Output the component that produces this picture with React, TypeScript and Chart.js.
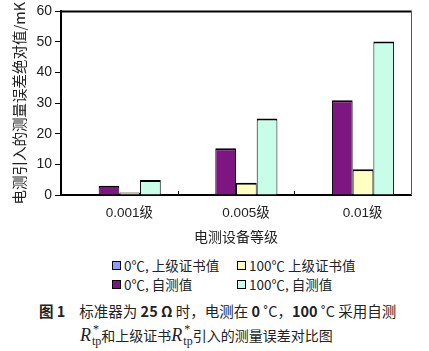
import React, { useEffect, useRef } from "react";
import { Chart, registerables } from "chart.js";

Chart.register(...registerables);

const categories = ["0.001级", "0.005级", "0.01级"];
const seriesNames = ["0℃, 上级证书值", "0℃, 自测值", "100℃ 上级证书值", "100℃, 自测值"];
const blueCert0 = [0, 0, 0];
const purpleSelf0 = [3.0, 15.3, 31.0];
const yellowCert100 = [0.8, 4.0, 8.4];
const cyanSelf100 = [4.9, 25.0, 50.2];
const yTicks = [0, 10, 20, 30, 40, 50, 60];

const colors = ["#8c9cff", "#7d1680", "#ffffc4", "#c8fdea"];

const FONT = "'Liberation Sans', 'Noto Sans CJK SC', sans-serif";
const CJK = "'Noto Sans CJK SC', sans-serif";

const frame = {
  id: "frame",
  afterDraw(chart: any) {
    const { ctx, chartArea } = chart;
    const { left, right, top, bottom } = chartArea;
    ctx.save();
    ctx.strokeStyle = "#000";
    ctx.lineWidth = 2;
    ctx.beginPath();
    ctx.moveTo(left - 1, top);
    ctx.lineTo(right, top);
    ctx.stroke();
    ctx.strokeStyle = "#555";
    ctx.lineWidth = 1;
    ctx.beginPath();
    ctx.moveTo(right + 0.5, top - 1);
    ctx.lineTo(right + 0.5, bottom);
    ctx.stroke();
    const xs = chart.scales.x;
    ctx.strokeStyle = "#000";
    for (let i = 0; i < categories.length - 1; i++) {
      const xm = Math.round((xs.getPixelForValue(i) + xs.getPixelForValue(i + 1)) / 2) + 0.5;
      ctx.beginPath();
      ctx.moveTo(xm, bottom);
      ctx.lineTo(xm, bottom - 4);
      ctx.stroke();
    }
    ctx.restore();
  },
};

function LegendItem({ color, label, left, top }: any) {
  return (
    <div style={{ position: "absolute", left, top, display: "flex", alignItems: "center", whiteSpace: "nowrap" }}>
      <span style={{ display: "inline-block", width: 7, height: 7, border: "1px solid #000", background: color, marginRight: 3 }} />
      <span style={{ font: `13.5px ${CJK}`, color: "#222", lineHeight: "16px" }}>{label}</span>
    </div>
  );
}

function Rtp() {
  return (
    <span style={{ display: "inline-flex", alignItems: "center" }}>
      <span style={{ fontFamily: "'Liberation Serif', serif", fontStyle: "italic", fontSize: 18 }}>R</span>
      <span style={{ display: "inline-flex", flexDirection: "column", fontFamily: "'Liberation Serif', serif", fontSize: 12, lineHeight: "10px", marginLeft: 1 }}>
        <span style={{ paddingLeft: 1 }}>*</span>
        <span style={{ marginTop: 2 }}>tp</span>
      </span>
    </span>
  );
}

export default function App() {
  const ref = useRef<HTMLCanvasElement>(null);
  useEffect(() => {
    const data = [blueCert0, purpleSelf0, yellowCert100, cyanSelf100];
    const chart = new Chart(ref.current!, {
      type: "bar",
      data: {
        labels: categories,
        datasets: data.map((d, i) => ({
          label: seriesNames[i],
          data: d,
          backgroundColor: colors[i],
          borderColor: "#000",
          borderWidth: i === 0 ? 0 : { top: 2, left: 1, right: 1, bottom: 0 },
          borderSkipped: false,
          barPercentage: 1,
          categoryPercentage: 0.71,
        })),
      },
      plugins: [frame],
      options: {
        animation: false,
        responsive: false,
        maintainAspectRatio: false,
        layout: { padding: { top: 9, right: 18, left: 0, bottom: 0 } },
        plugins: { legend: { display: false }, tooltip: { enabled: false } },
        scales: {
          x: {
            grid: { display: false, drawTicks: false },
            border: { display: true, color: "#000", width: 2 },
            ticks: { font: { family: FONT, size: 13.5 }, color: "#222", padding: 10, labelOffset: 10 },
            title: { display: true, text: "电测设备等级", font: { family: CJK, size: 14 }, color: "#222", padding: { top: 4, bottom: 0 } },
            afterFit: (s: any) => { s.height = 50; },
          },
          y: {
            min: 0,
            max: 60,
            afterBuildTicks: (s: any) => { s.ticks = yTicks.map((v) => ({ value: v })); },
            grid: { drawOnChartArea: false, drawTicks: true, tickLength: 6, color: "#000", lineWidth: 1 },
            border: { display: true, color: "#000", width: 2 },
            ticks: { font: { family: FONT, size: 14 }, color: "#222", padding: 3 },
            title: { display: true, text: "电测引入的测量误差绝对值/mK", font: { family: CJK, size: 14.5 }, color: "#222", padding: { top: 11, bottom: 0 } },
            afterFit: (s: any) => { s.width = 61; },
          },
        },
      },
    });
    return () => chart.destroy();
  }, []);

  return (
    <div style={{ position: "absolute", left: 0, top: 0, width: 429, height: 351, background: "#fff", overflow: "hidden" }}>
      <canvas ref={ref} width={429} height={245} style={{ position: "absolute", left: 0, top: 0, width: 429, height: 245 }} />
      <LegendItem color={colors[0]} label={seriesNames[0]} left={112} top={257} />
      <LegendItem color={colors[2]} label={seriesNames[2]} left={237} top={257} />
      <LegendItem color={colors[1]} label={seriesNames[1]} left={112} top={276} />
      <LegendItem color={colors[3]} label={seriesNames[3]} left={237} top={276} />
      <div style={{ position: "absolute", left: 39, top: 300, font: `14.5px ${CJK}`, letterSpacing: 0, color: "#222", whiteSpace: "nowrap", lineHeight: "22px" }}>
        <b>图 1</b>
        <span style={{ marginLeft: 14 }}>标准器为 <b>25 Ω</b> 时，电测在 <b>0</b> ˚C，<b>100</b> ˚C 采用自测</span>
      </div>
      <div style={{ position: "absolute", left: 80, top: 323, font: `14px ${CJK}`, color: "#222", whiteSpace: "nowrap", lineHeight: "24px", display: "flex", alignItems: "center" }}>
        <Rtp />
        <span>和上级证书</span>
        <Rtp />
        <span>引入的测量误差对比图</span>
      </div>
    </div>
  );
}
